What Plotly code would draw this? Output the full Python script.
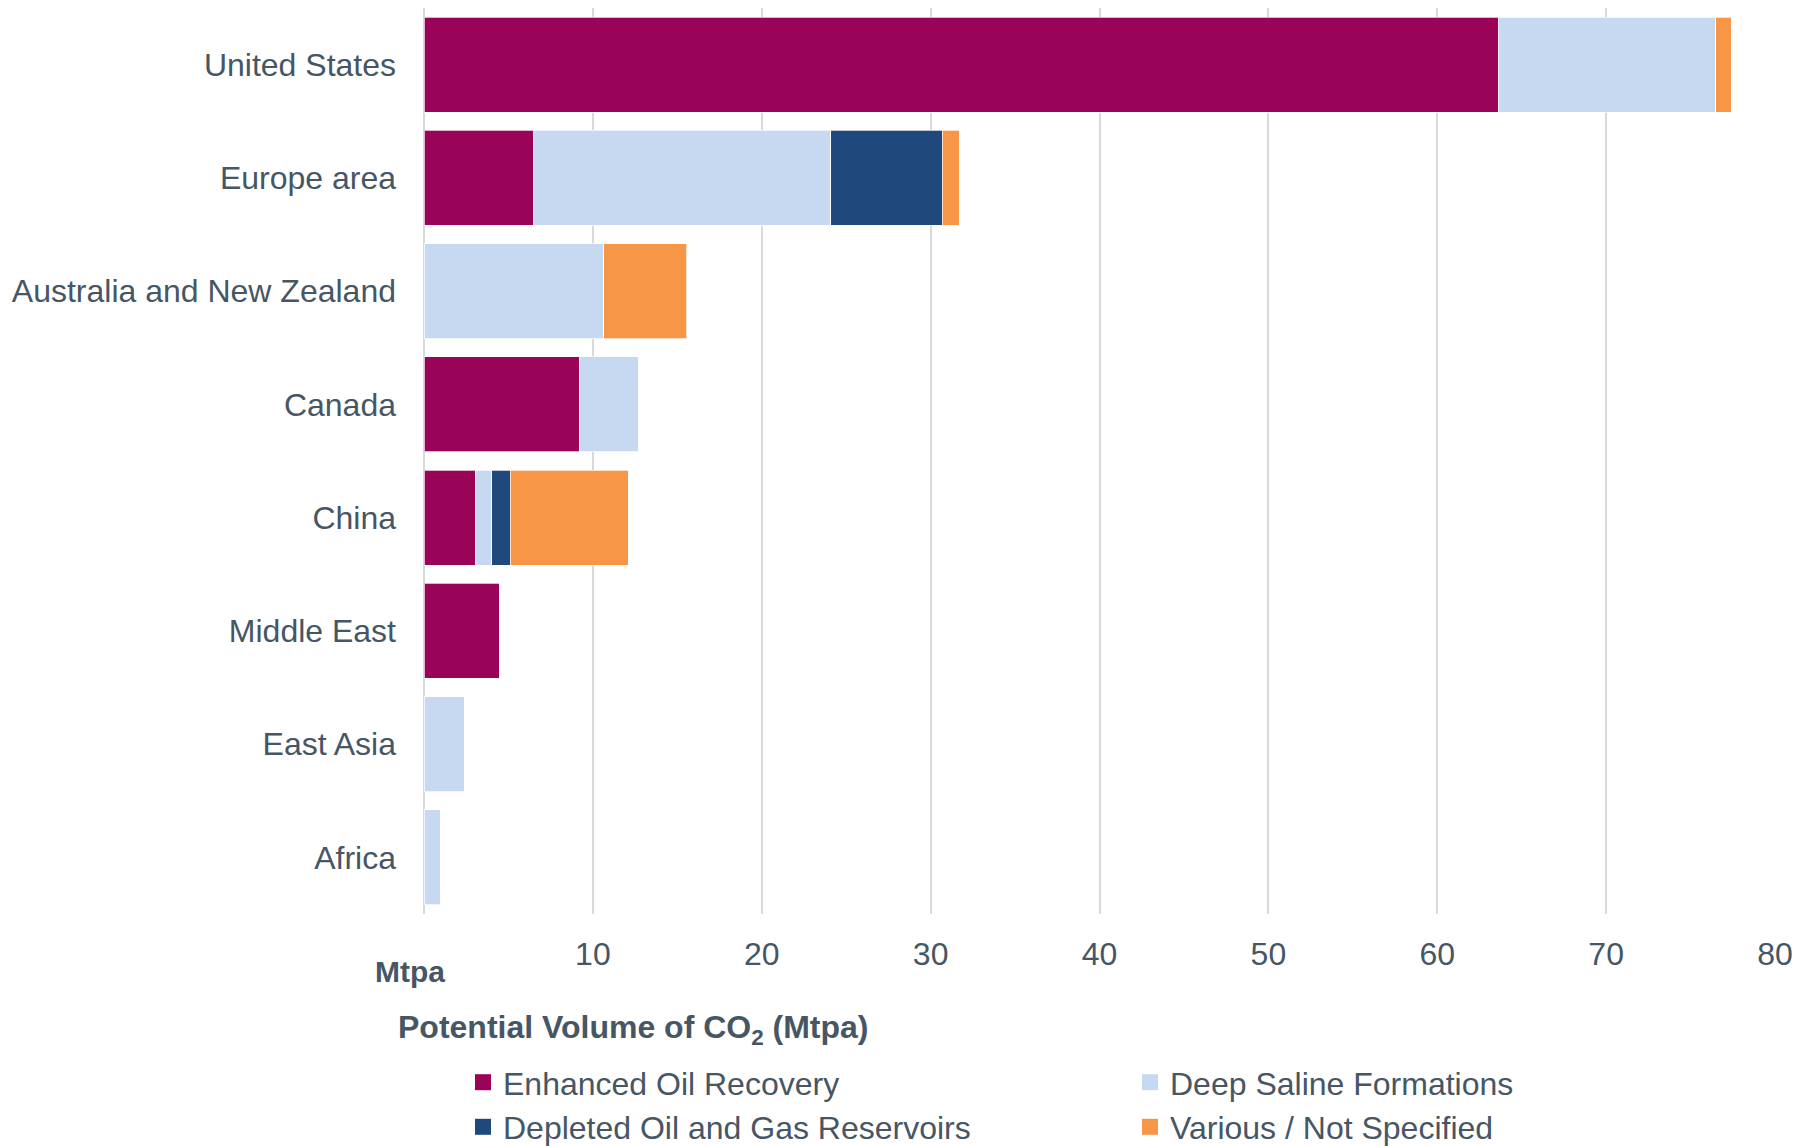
import plotly.graph_objects as go

regions = ["United States", "Europe area", "Australia and New Zealand", "Canada",
           "China", "Middle East", "East Asia", "Africa"]
eor      = [63.6, 6.5, 0.0, 9.2, 3.05, 4.45, 0.0, 0.0]
saline   = [12.9, 17.6, 10.65, 3.5, 0.95, 0.0, 2.4, 0.95]
depleted = [0.0, 6.6, 0.0, 0.0, 1.1, 0.0, 0.0, 0.0]
various  = [0.9, 1.0, 4.9, 0.0, 7.0, 0.0, 0.0, 0.0]

series_names = ["Enhanced Oil Recovery", "Deep Saline Formations",
                "Depleted Oil and Gas Reservoirs", "Various / Not Specified"]
series_values = [eor, saline, depleted, various]
colors = ["#9A0458", "#C6D9F1", "#1F497D", "#F79646"]

x_ticks = [10, 20, 30, 40, 50, 60, 70, 80]

TXT = "#465664"
FONT = "Liberation Sans, Arial, sans-serif"

fig = go.Figure()
for name, vals, col in zip(series_names, series_values, colors):
    fig.add_trace(go.Bar(
        y=regions, x=vals, orientation="h", name=name,
        marker=dict(color=col, line=dict(color="rgba(255,255,255,0.7)", width=1)),
        showlegend=False, legendgroup=name,
    ))
for name, col in zip(series_names, colors):
    fig.add_trace(go.Scatter(
        x=[None], y=[None], mode="markers", name=name, legendgroup=name,
        marker=dict(symbol="square", size=16, color=col), showlegend=True,
    ))

fig.update_layout(
    width=1798, height=1146,
    barmode="stack", bargap=0.16,
    paper_bgcolor="white", plot_bgcolor="white",
    margin=dict(l=424, r=23, t=8, b=232),
    font=dict(family=FONT, size=32, color=TXT),
    xaxis=dict(range=[0, 80], tickvals=x_ticks, ticktext=[str(v) for v in x_ticks],
               showgrid=True, gridcolor="#D9D9D9", gridwidth=2,
               zeroline=True, zerolinecolor="#D9D9D9", zerolinewidth=2,
               showline=False, ticks="", automargin=False,
               ticklabelstandoff=18, tickfont=dict(size=32, color=TXT)),
    yaxis=dict(categoryorder="array", categoryarray=regions, autorange="reversed",
               showgrid=False, zeroline=False, showline=False, ticks="",
               automargin=False,
               ticklabelstandoff=27, tickfont=dict(size=32, color=TXT)),
    legend=dict(orientation="h", xref="container", yref="container",
                x=0.2575, xanchor="left", y=0.0795, yanchor="top",
                entrywidth=622, font=dict(size=32, color=TXT),
                tracegroupgap=0, itemclick=False, bgcolor="rgba(0,0,0,0)"),
    annotations=[
        dict(text="<b>Mtpa</b>", xref="paper", yref="paper", x=-0.0104, y=-0.063,
             xanchor="center", yanchor="middle", showarrow=False,
             font=dict(size=30, color=TXT)),
        dict(text="<b>Potential Volume of CO<sub>2</sub> (Mtpa)</b>", xref="paper", yref="paper",
             x=0.155, y=-0.127, xanchor="center", yanchor="middle", showarrow=False,
             font=dict(size=32, color=TXT)),
    ],
)

fig.write_html("out.html",
               config={"displayModeBar": False},
               post_script="document.documentElement.style.margin='0';"
                           "document.body.style.margin='0';"
                           "document.body.style.overflow='hidden';")
